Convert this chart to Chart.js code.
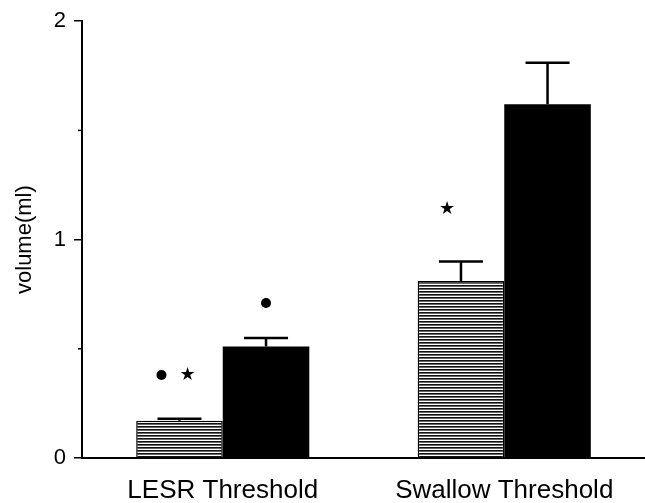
<!DOCTYPE html>
<html>
<head>
<meta charset="utf-8">
<script src="https://cdn.jsdelivr.net/npm/chart.js@4.4.1/dist/chart.umd.min.js"></script>
<style>
  html, body { margin: 0; padding: 0; background: #fff; }
  #wrap { width: 645px; height: 503px; }
</style>
</head>
<body>
<div id="wrap"><canvas id="chart" width="645" height="503"></canvas></div>
<script>
// chart data
const categories = ["LESR Threshold", "Swallow Threshold"];
const hatchedValues = [0.17, 0.81];
const hatchedErrors = [0.01, 0.09];
const solidValues = [0.51, 1.62];
const solidErrors = [0.04, 0.19];
const yTicks = [0, 0.5, 1, 1.5, 2];
const yLabels = ["0", "", "1", "", "2"];

// significance marks above the bars
const markerCategory = [0, 0, 0, 1];
const markerSeries = [0, 0, 1, 0];
const markerValue = [0.38, 0.38, 0.71, 1.14];
const markerSymbol = ["dot", "star", "dot", "star"];

const FONT = "'Liberation Sans', Arial, sans-serif";

// horizontal line fill for the first series
function makeHatch() {
  const c = document.createElement("canvas");
  c.width = 6;
  c.height = 3;
  const g = c.getContext("2d");
  g.fillStyle = "#ffffff";
  g.fillRect(0, 0, 6, 3);
  g.fillStyle = "#111111";
  g.fillRect(0, 0, 6, 1);
  g.fillStyle = "#666666";
  g.fillRect(0, 1, 6, 1);
  return g.createPattern(c, "repeat");
}

const errorBars = {
  id: "errorBars",
  afterDatasetsDraw(chart) {
    const ctx = chart.ctx;
    const yScale = chart.scales.y;
    const errs = [hatchedErrors, solidErrors];
    ctx.save();
    ctx.strokeStyle = "#000";
    ctx.lineWidth = 2.5;
    chart.data.datasets.forEach((ds, i) => {
      const meta = chart.getDatasetMeta(i);
      meta.data.forEach((bar, j) => {
        const top = yScale.getPixelForValue(ds.data[j] + errs[i][j]);
        ctx.beginPath();
        ctx.moveTo(bar.x, bar.y);
        ctx.lineTo(bar.x, top);
        ctx.moveTo(bar.x - 22, top);
        ctx.lineTo(bar.x + 22, top);
        ctx.stroke();
      });
    });
    ctx.restore();
  }
};

// short ticks at the unlabelled values
const minorTicks = {
  id: "minorTicks",
  afterDraw(chart) {
    const ctx = chart.ctx;
    const yScale = chart.scales.y;
    ctx.save();
    ctx.strokeStyle = "#000";
    ctx.lineWidth = 1.5;
    yTicks.forEach((v, i) => {
      if (yLabels[i] !== "") return;
      const y = yScale.getPixelForValue(v);
      ctx.beginPath();
      ctx.moveTo(yScale.right - 4, y);
      ctx.lineTo(yScale.right, y);
      ctx.stroke();
    });
    ctx.restore();
  }
};

// horizontal shift of each mark from the bar centre
const markerShift = [-18, 8, 0, -14];

const markers = {
  id: "markers",
  afterDatasetsDraw(chart) {
    const ctx = chart.ctx;
    const yScale = chart.scales.y;
    ctx.save();
    ctx.fillStyle = "#000";
    markerSymbol.forEach((sym, k) => {
      const bar = chart.getDatasetMeta(markerSeries[k]).data[markerCategory[k]];
      const x = bar.x + markerShift[k];
      const y = yScale.getPixelForValue(markerValue[k]);
      if (sym === "dot") {
        ctx.beginPath();
        ctx.arc(x, y, 5, 0, Math.PI * 2);
        ctx.fill();
      } else {
        ctx.font = "18px 'DejaVu Sans'";
        ctx.textAlign = "center";
        ctx.textBaseline = "middle";
        ctx.fillText("\u2605", x, y);
      }
    });
    ctx.restore();
  }
};

const ctx = document.getElementById("chart").getContext("2d");

new Chart(ctx, {
  type: "bar",
  data: {
    labels: categories,
    datasets: [
      {
        data: hatchedValues,
        backgroundColor: makeHatch(),
        borderColor: "#000",
        borderWidth: 1.5,
        borderSkipped: "bottom"
      },
      {
        data: solidValues,
        backgroundColor: "#000",
        borderWidth: 0
      }
    ]
  },
  options: {
    responsive: false,
    animation: false,
    events: [],
    barPercentage: 1,
    categoryPercentage: 0.615,
    layout: { padding: { top: 21, right: 0, bottom: 0, left: 0 } },
    plugins: {
      legend: { display: false },
      tooltip: { enabled: false }
    },
    scales: {
      x: {
        afterFit(scale) { scale.height = 45; },
        grid: { display: false, drawTicks: false },
        border: { display: true, color: "#000", width: 2 },
        ticks: {
          color: "#000",
          padding: 17,
          font: { family: FONT, size: 26 }
        }
      },
      y: {
        min: 0,
        max: 2,
        afterFit(scale) { scale.width = 82; },
        afterBuildTicks(scale) {
          scale.ticks = yTicks.map(v => ({ value: v }));
        },
        grid: {
          drawOnChartArea: false,
          drawTicks: true,
          tickLength: 8,
          color: "#000",
          tickColor: c => (yLabels[c.index] === "" ? "rgba(0,0,0,0)" : "#000"),
          lineWidth: 1.5
        },
        border: { display: true, color: "#000", width: 2 },
        ticks: {
          color: "#000",
          padding: 8,
          font: { family: FONT, size: 22 },
          callback: (v, i) => yLabels[i]
        },
        title: {
          display: true,
          text: "volume(ml)",
          color: "#000",
          padding: { top: 12, bottom: 0 },
          font: { family: FONT, size: 22 }
        }
      }
    }
  },
  plugins: [errorBars, markers, minorTicks]
});
</script>
</body>
</html>
